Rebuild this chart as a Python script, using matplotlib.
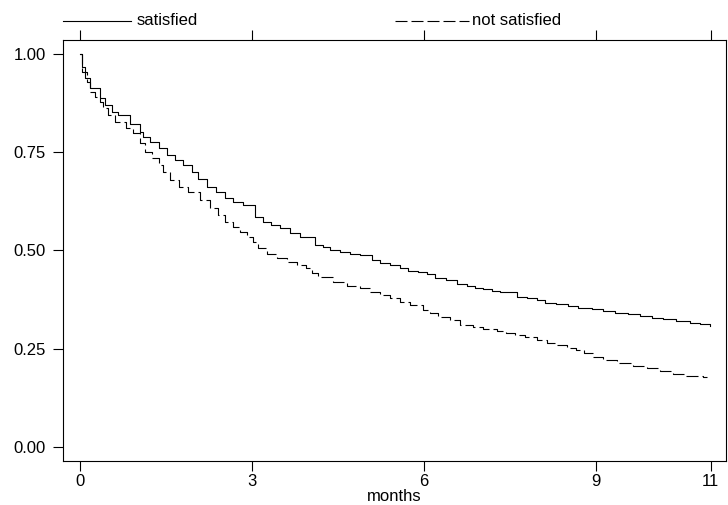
import matplotlib
matplotlib.use("Agg")
import matplotlib.pyplot as plt
from matplotlib.lines import Line2D

# Kaplan-Meier estimates (months, survival)
t_sat = [0, 0.03, 0.087, 0.174, 0.35, 0.436, 0.55, 0.67, 0.87, 1.05,
         1.10, 1.22, 1.37, 1.51, 1.66, 1.80, 1.95, 2.06, 2.21, 2.38,
         2.53, 2.67, 2.85, 3.05, 3.20, 3.34, 3.49, 3.66, 3.84, 4.10,
         4.24, 4.36, 4.54, 4.71, 4.88, 5.09, 5.23, 5.41, 5.58, 5.73,
         5.90, 6.05, 6.19, 6.39, 6.57, 6.75, 6.89, 7.03, 7.18, 7.33,
         7.62, 7.79, 7.97, 8.11, 8.31, 8.52, 8.69, 8.93, 9.13, 9.33,
         9.56, 9.77, 9.97, 10.17, 10.40, 10.64, 10.81, 10.99]
s_sat = [1.0, 0.968, 0.938, 0.913, 0.887, 0.870, 0.853, 0.845, 0.823, 0.802,
         0.789, 0.777, 0.760, 0.743, 0.730, 0.717, 0.700, 0.683, 0.662, 0.649,
         0.633, 0.624, 0.615, 0.586, 0.573, 0.564, 0.556, 0.543, 0.535, 0.514,
         0.508, 0.501, 0.497, 0.492, 0.488, 0.475, 0.469, 0.463, 0.456, 0.448,
         0.444, 0.440, 0.429, 0.425, 0.414, 0.410, 0.405, 0.402, 0.396, 0.393,
         0.382, 0.378, 0.374, 0.367, 0.363, 0.358, 0.354, 0.350, 0.346, 0.341,
         0.337, 0.333, 0.329, 0.324, 0.320, 0.316, 0.312, 0.308]

t_not = [0, 0.03, 0.116, 0.174, 0.26, 0.35, 0.41, 0.49, 0.61, 0.81,
         0.93, 1.05, 1.13, 1.25, 1.37, 1.45, 1.57, 1.72, 1.89, 2.09,
         2.27, 2.41, 2.53, 2.67, 2.79, 2.91, 3.02, 3.11, 3.26, 3.43,
         3.61, 3.78, 3.95, 4.04, 4.16, 4.42, 4.65, 4.88, 5.06, 5.23,
         5.41, 5.58, 5.76, 5.99, 6.11, 6.25, 6.45, 6.63, 6.86, 7.03,
         7.27, 7.44, 7.59, 7.76, 7.97, 8.14, 8.31, 8.49, 8.66, 8.80,
         8.95, 9.13, 9.36, 9.65, 9.89, 10.12, 10.35, 10.57, 10.86, 10.93]
s_not = [1.0, 0.955, 0.929, 0.904, 0.891, 0.879, 0.862, 0.845, 0.828, 0.811,
         0.798, 0.773, 0.751, 0.734, 0.717, 0.700, 0.679, 0.662, 0.649, 0.628,
         0.607, 0.590, 0.573, 0.560, 0.548, 0.535, 0.522, 0.505, 0.492, 0.480,
         0.471, 0.463, 0.454, 0.442, 0.433, 0.419, 0.410, 0.403, 0.395, 0.386,
         0.378, 0.369, 0.361, 0.348, 0.340, 0.331, 0.323, 0.310, 0.304, 0.299,
         0.295, 0.290, 0.284, 0.279, 0.272, 0.265, 0.259, 0.251, 0.246, 0.239,
         0.229, 0.221, 0.212, 0.206, 0.200, 0.194, 0.184, 0.181, 0.177, 0.177]

x_ticks = [0, 3, 6, 9, 11]
y_ticks = [0, 0.25, 0.5, 0.75, 1.0]
y_labels = ["0.00", "0.25", "0.50", "0.75", "1.00"]
labels = ["satisfied", "not satisfied"]

plt.rcParams['font.family'] = ['Liberation Sans', 'DejaVu Sans']
plt.rcParams['font.size'] = 12

fig = plt.figure(figsize=(7.28, 5.05), dpi=100)
ax = fig.add_axes([0.0865, 0.0871, 0.9114, 0.8337])

dash = (10.8, 3.6)
ax.plot(t_sat, s_sat, color='black', lw=0.8, drawstyle='steps-post')
ax.plot(t_not, s_not, color='black', lw=0.8, drawstyle='steps-post', dashes=dash)

ax.set_xlim(-0.2965, 11.277)
ax.set_ylim(-0.0364, 1.0357)
ax.set_xticks(x_ticks)
ax.set_yticks(y_ticks)
ax.set_yticklabels(y_labels)
ax.tick_params(axis='x', top=True, labeltop=False, direction='out', length=7, width=0.8, pad=2)
ax.tick_params(axis='y', direction='out', length=7, width=0.8, pad=5.5)
ax.set_xlabel("months", labelpad=0)
for sp in ax.spines.values():
    sp.set_linewidth(0.8)

# legend above the plot region
ly = 1 - 20.5 / 505
fig.add_artist(Line2D([63 / 728, 131 / 728], [ly, ly], color='black', lw=0.8))
fig.text(137 / 728, ly, labels[0], va='center', ha='left')
fig.add_artist(Line2D([395 / 728, 469 / 728], [ly, ly], color='black', lw=0.8, dashes=dash))
fig.text(472 / 728, ly, labels[1], va='center', ha='left')

plt.savefig("out.png", dpi=100)
